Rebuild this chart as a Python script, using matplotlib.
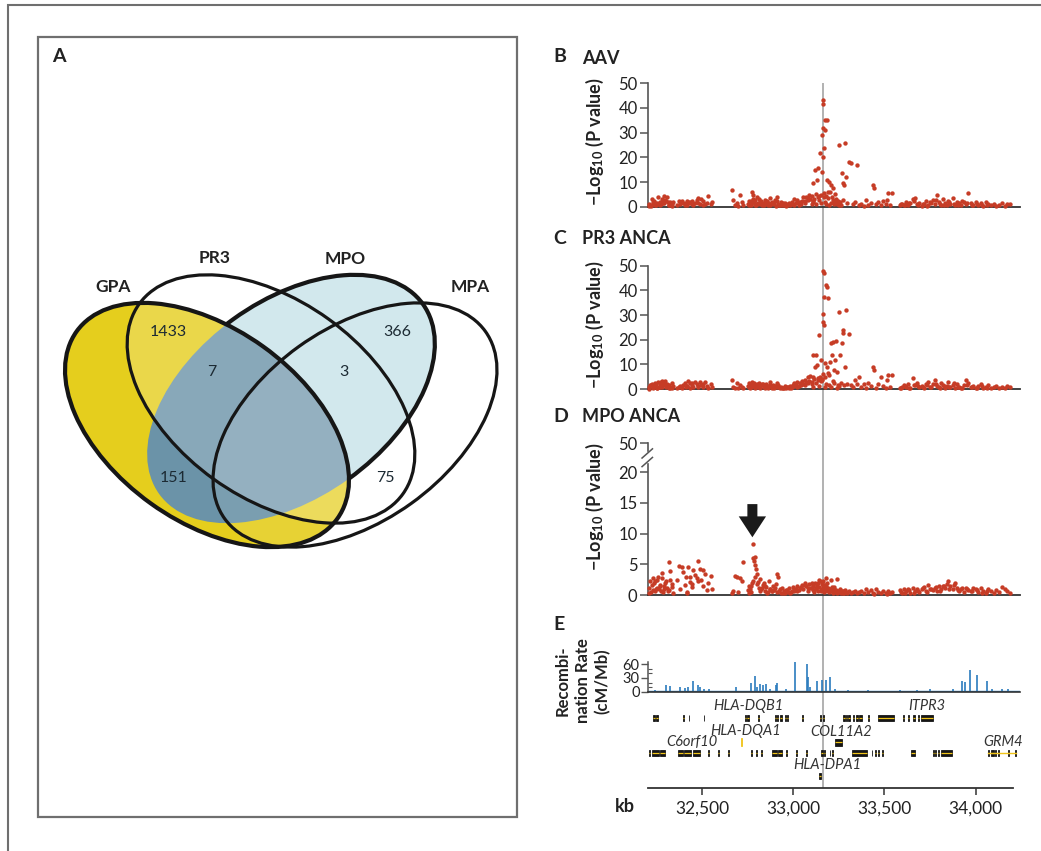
import matplotlib
matplotlib.use('Agg')
import matplotlib.pyplot as plt
from matplotlib.patches import Ellipse, Rectangle, FancyArrow

plt.rcParams['font.family'] = ['Lato', 'DejaVu Sans']
plt.rcParams['mathtext.fontset'] = 'custom'
plt.rcParams['mathtext.rm'] = 'Lato'
plt.rcParams['mathtext.bf'] = 'Lato:bold'
plt.rcParams['mathtext.it'] = 'Lato:italic'

# ---------------- data ----------------
venn_sets = ['GPA', 'PR3', 'MPO', 'MPA']
venn_counts = [1433, 7, 151, 3, 366, 75]

snp_kb = [
    32205, 32214, 32222, 32231, 32238, 32241, 32249, 32257, 32262, 32270,
    32277, 32284, 32290, 32296, 32304, 32311, 32318, 32325, 32332, 32340,
    32359, 32370, 32378, 32386, 32396, 32404, 32414, 32422, 32430, 32442,
    32450, 32458, 32469, 32478, 32486, 32494, 32506, 32515, 32524, 32534,
    32546, 32552,
    32661, 32670, 32680, 32689, 32698, 32707, 32716, 32725,
    32752, 32758, 32765, 32771, 32776, 32780, 32784, 32789, 32795, 32799,
    32806, 32812, 32818, 32825, 32832, 32838, 32845, 32852, 32860, 32867,
    32874, 32881, 32888, 32895, 32902, 32908, 32912, 32917, 32924, 32931,
    32938, 32946, 32953, 32960, 32968, 32975, 32983, 32990, 32998, 33006,
    33014, 33022, 33030, 33038, 33046, 33054, 33062, 33070, 33078, 33086,
    33094,
    33100, 33105, 33110, 33115, 33119, 33124, 33128, 33133, 33137, 33143,
    33146, 33150, 33155, 33157, 33161, 33163, 33164, 33165, 33167, 33168,
    33170, 33174, 33176, 33179, 33183, 33186, 33188, 33192, 33197, 33201,
    33205, 33210, 33215, 33219, 33224, 33229, 33234, 33238, 33245, 33252,
    33256, 33261, 33265, 33271, 33274, 33278, 33283, 33289, 33296, 33307,
    33318, 33330, 33340, 33351, 33360,
    33102, 33108, 33122, 33140, 33152, 33172, 33181, 33195, 33208, 33222,
    33241, 33248, 32781, 32787, 32792,
    33372, 33385, 33398, 33412, 33425, 33439, 33441, 33452, 33466, 33480,
    33494, 33508, 33512, 33521, 33530, 33540,
    33585, 33595, 33606, 33618, 33630, 33642, 33655, 33668, 33680, 33692,
    33704, 33716, 33728, 33740, 33752, 33764, 33776, 33787, 33798, 33810,
    33822, 33834, 33846, 33851, 33862, 33874, 33886, 33897, 33910, 33922,
    33935, 33948, 33961, 33974, 33987,
    34000, 34014, 34028, 34042, 34056, 34070, 34085, 34100, 34115, 34130,
    34145, 34160, 34175, 34190,
    32209, 32218, 32227, 32235, 32245, 32253, 32266, 32274, 32281, 32288,
    32300, 32315, 32322, 32336, 32410, 32418, 32435, 32446, 32474, 32502,
    32755, 32762, 32768, 32802, 32815, 32828, 32842, 32856, 32870, 32885,
    32899, 32921, 32942, 32964, 32986, 33002, 33018, 33042, 33066, 33082,
    33590, 33612, 33636, 33660, 33686, 33710, 33734, 33758, 33781, 33804,
    33828, 33856, 33880, 33904, 33928, 33954, 33980, 34007, 34035, 34063,
]

logp_aav = [
    0.3, 0.8, 3.2, 1.0, 0.5, 1.5, 0.9, 3.8, 1.2, 0.6,
    2.1, 1.4, 4.2, 2.6, 3.9, 1.8, 0.7, 1.1, 0.4, 2.0,
    0.5, 2.2, 1.0, 2.4, 1.6, 0.8, 2.5, 1.9, 1.3, 2.2,
    0.6, 1.5, 2.8, 3.5, 1.0, 3.0, 2.3, 0.9, 1.7, 4.4,
    1.2, 2.0,
    6.8, 2.7, 0.6, 1.4, 0.4, 4.7, 2.0, 0.7,
    1.2, 2.5, 0.8, 6.1, 3.2, 4.7, 1.9, 2.8, 0.6, 4.0,
    1.5, 3.0, 0.9, 2.2, 1.4, 0.5, 2.7, 1.8, 0.7, 1.3,
    3.5, 2.0, 0.9, 1.6, 0.4, 4.0, 2.4, 1.1, 0.6, 1.9,
    0.8, 0.5, 1.4, 0.3, 0.9, 1.7, 0.6, 2.1, 1.0, 3.2,
    1.5, 2.6, 0.8, 1.9, 2.4, 3.8, 1.3, 4.0, 2.7, 4.6,
    3.3,
    4.5, 2.0, 9.5, 3.0, 14.9, 5.0, 10.8, 3.8, 15.5, 4.2,
    21.6, 4.8, 29.0, 14.2, 43.2, 41.6, 20.3, 31.8, 23.6, 5.5,
    3.9, 35.0, 31.0, 4.5, 35.0, 10.8, 6.0, 3.5, 10.0, 5.8,
    8.8, 4.0, 2.6, 7.4, 1.8, 5.3, 3.0, 1.2, 2.4, 25.0,
    2.0, 0.8, 13.5, 9.5, 2.9, 8.8, 25.7, 12.2, 1.5, 18.2,
    17.6, 1.0, 2.0, 16.9, 0.7,
    1.2, 2.2, 0.9, 2.8, 1.5, 2.1, 1.0, 0.6, 1.5, 0.9,
    2.2, 0.5, 2.0, 1.1, 0.7,
    1.0, 0.4, 2.7, 0.6, 1.5, 8.8, 7.4, 0.9, 1.8, 0.5,
    2.2, 1.2, 2.7, 5.4, 0.8, 5.4,
    0.5, 1.2, 0.8, 2.0, 0.6, 1.4, 3.0, 3.4, 0.9, 1.6,
    0.4, 1.1, 2.2, 0.7, 1.8, 2.6, 1.2, 4.7, 2.0, 0.8,
    3.2, 1.5, 0.6, 2.4, 1.0, 3.6, 0.7, 1.9, 1.3, 0.5,
    2.1, 0.9, 5.4, 1.6, 0.8,
    2.0, 0.6, 1.3, 0.4, 1.8, 0.9, 0.5, 1.1, 0.3, 0.7,
    1.5, 0.4, 1.0, 1.2,
    1.1, 0.4, 1.8, 2.4, 0.7, 1.3, 2.0, 0.9, 3.1, 1.6,
    2.3, 0.5, 1.9, 1.0, 1.4, 0.6, 2.0, 1.1, 1.7, 0.8,
    0.6, 1.7, 2.3, 0.9, 1.8, 0.5, 1.2, 2.4, 0.6, 1.3,
    2.9, 0.7, 1.6, 0.5, 1.2, 0.8, 2.0, 1.1, 2.2, 3.6,
    0.9, 0.5, 1.6, 2.2, 0.7, 1.2, 0.4, 1.5, 2.8, 1.0,
    0.6, 1.9, 1.2, 0.5, 2.3, 1.4, 0.8, 1.0, 0.5, 0.7,
]

logp_pr3 = [
    0.2, 1.5, 2.2, 0.8, 2.6, 1.3, 0.5, 2.9, 1.0, 0.7,
    3.3, 1.6, 2.4, 3.4, 1.9, 1.1, 0.6, 0.9, 0.3, 1.4,
    0.4, 0.8, 1.2, 0.5, 1.7, 2.4, 1.1, 3.1, 2.6, 1.8,
    0.9, 3.0, 2.2, 1.3, 2.7, 1.5, 0.7, 2.9, 1.2, 0.6,
    1.9, 0.8,
    3.6, 1.0, 0.5, 2.3, 0.3, 1.8, 0.9, 0.6,
    1.4, 2.3, 0.7, 2.8, 1.9, 1.2, 2.6, 0.5, 1.7, 2.1,
    1.0, 2.4, 0.6, 1.5, 2.0, 0.8, 1.3, 2.2, 0.4, 1.1,
    2.7, 0.9, 1.6, 0.5, 1.2, 2.3, 0.7, 1.8, 0.4, 1.0,
    0.6, 0.3, 1.2, 0.5, 0.8, 0.4, 1.1, 0.7, 1.5, 2.6,
    1.8, 3.0, 1.2, 2.4, 3.1, 2.0, 3.6, 2.8, 4.9, 3.4,
    5.2,
    3.0, 5.0, 13.8, 4.0, 9.0, 13.8, 9.7, 4.5, 3.8, 21.9,
    5.0, 11.8, 4.2, 3.5, 47.8, 27.3, 6.0, 30.3, 26.0, 46.9,
    37.2, 4.8, 10.5, 42.2, 9.0, 41.5, 36.8, 6.4, 5.5, 11.1,
    18.5, 13.8, 3.2, 19.2, 7.7, 11.8, 19.6, 7.0, 1.5, 31.4,
    13.8, 2.5, 18.5, 23.9, 22.6, 1.8, 9.0, 32.0, 2.0, 22.3,
    1.5, 0.8, 3.5, 2.0, 5.0,
    1.9, 0.8, 2.6, 1.2, 3.4, 0.9, 2.0, 1.5, 0.7, 2.4,
    0.6, 1.2, 1.5, 0.8, 1.3,
    0.8, 1.9, 0.5, 2.6, 1.1, 9.0, 7.7, 0.6, 2.0, 5.0,
    1.3, 0.4, 3.6, 5.7, 1.0, 5.7,
    0.4, 0.9, 1.6, 0.7, 2.2, 0.5, 4.3, 1.5, 2.4, 0.8,
    1.2, 0.6, 1.9, 3.0, 1.0, 2.2, 3.6, 1.4, 0.7, 2.6,
    1.8, 0.5, 1.2, 2.8, 0.9, 1.6, 0.6, 2.1, 1.0, 0.4,
    1.5, 3.6, 2.5, 0.9, 1.4,
    0.6, 1.2, 2.0, 0.5, 0.9, 1.5, 0.4, 0.8, 1.1, 0.3,
    0.7, 0.5, 1.2, 0.9,
    0.9, 1.8, 0.6, 1.2, 2.1, 0.4, 1.5, 2.8, 0.8, 2.2,
    1.0, 1.7, 0.5, 2.5, 0.9, 1.3, 0.6, 2.3, 1.0, 1.9,
    0.9, 0.5, 1.8, 1.4, 0.7, 1.9, 0.5, 1.1, 1.6, 0.6,
    1.4, 1.0, 0.4, 0.9, 0.6, 1.3, 0.8, 1.7, 1.5, 2.5,
    0.6, 1.2, 0.4, 1.8, 1.1, 0.7, 1.5, 0.9, 2.0, 0.6,
    1.3, 0.8, 2.3, 1.0, 0.5, 1.7, 0.9, 0.6, 1.1, 0.4,
]

logp_mpo = [
    0.4, 2.3, 1.6, 0.8, 2.2, 0.6, 1.2, 3.0, 0.9, 1.7,
    2.7, 0.5, 1.4, 2.0, 1.1, 0.7, 5.3, 2.4, 1.8, 0.3,
    2.4, 4.8, 0.9, 4.5, 3.8, 1.6, 0.4, 4.6, 2.1, 1.3,
    4.1, 3.3, 2.8, 5.5, 4.3, 2.5, 1.5, 3.5, 0.8, 2.0,
    3.1, 1.0,
    0.4, 0.6, 3.1, 3.0, 0.5, 2.7, 2.2, 5.3,
    0.8, 1.4, 0.5, 1.9, 2.3, 8.3, 5.6, 6.25, 4.3, 3.5,
    2.1, 1.2, 2.6, 0.9, 1.6, 2.0, 0.7, 1.3, 0.5, 2.2,
    1.0, 0.6, 1.4, 0.8, 1.8, 0.5, 3.5, 3.0, 0.9, 0.4,
    1.2, 0.6, 0.3, 0.8, 0.5, 1.1, 0.4, 0.7, 1.3, 0.6,
    0.9, 1.5, 0.8, 1.2, 1.6, 1.0, 2.0, 1.4, 0.7, 1.8,
    1.1,
    1.2, 0.8, 1.6, 0.5, 1.9, 0.9, 1.4, 2.0, 0.7, 1.3,
    2.2, 0.6, 1.8, 1.0, 1.5, 0.9, 2.3, 1.1, 0.5, 1.7,
    0.8, 1.2, 0.6, 1.4, 0.9, 1.9, 0.7, 1.2, 0.5, 1.0,
    0.6, 1.3, 0.8, 0.4, 0.9, 0.5, 0.8, 0.3, 0.7, 0.5,
    1.0, 0.4, 0.7, 0.4, 0.6, 0.3, 0.8, 0.5, 0.4, 0.6,
    0.3, 0.5, 0.6, 0.3, 0.5,
    2.0, 1.5, 1.1, 2.4, 0.8, 1.6, 2.7, 1.0, 2.4, 1.3,
    2.6, 0.7, 6.0, 4.9, 2.9,
    0.6, 0.3, 1.0, 0.5, 0.8, 0.4, 0.2, 0.9, 0.5, 0.3,
    0.7, 0.4, 0.2, 0.6, 0.3, 0.5,
    0.8, 0.4, 1.0, 0.6, 0.9, 0.3, 1.2, 0.7, 1.0, 0.5,
    0.9, 1.3, 0.6, 1.6, 1.0, 0.8, 1.2, 0.6, 1.4, 0.9,
    1.5, 1.1, 1.8, 2.2, 1.4, 1.0, 1.9, 1.2, 0.7, 1.0,
    0.5, 1.1, 0.8, 0.6, 1.2,
    0.9, 0.5, 1.1, 0.7, 0.4, 1.0, 0.6, 0.3, 0.8, 0.5,
    1.3, 0.9, 0.6, 0.4,
    1.2, 0.5, 2.8, 1.9, 0.9, 2.5, 1.5, 0.6, 3.6, 1.0,
    2.2, 0.8, 3.9, 1.3, 2.9, 0.5, 3.0, 1.8, 2.3, 4.0,
    0.4, 0.9, 1.4, 1.8, 0.6, 1.1, 1.5, 0.4, 0.9, 0.6,
    1.2, 0.7, 0.4, 0.8, 0.5, 1.0, 0.7, 1.3, 1.6, 1.2,
    0.5, 0.3, 0.8, 0.4, 0.7, 1.1, 0.5, 0.9, 1.3, 0.6,
    1.5, 1.0, 1.7, 0.8, 1.2, 0.9, 0.6, 0.8, 0.4, 0.6,
]

recomb_kb = [32240, 32301, 32323, 32378, 32405, 32423, 32447, 32478, 32487, 32509,
             32539, 32685, 32766, 32789, 32799, 32817, 32831, 32850, 32872, 32905,
             32912, 32960, 33009, 33073, 33082, 33091, 33128, 33155, 33179, 33201,
             33229, 33302, 33412, 33585, 33677, 33750, 33878, 33924, 33942, 33970,
             34006, 34061, 34089, 34144, 34180]
recomb_rate = [3, 15, 12, 10, 9, 11, 23, 15, 10, 7,
               6, 10, 18, 34, 11, 17, 15, 17, 7, 15,
               20, 6, 66, 60, 33, 11, 24, 26, 26, 33,
               7, 4, 3, 4, 3, 5, 7, 23, 22, 48,
               37, 24, 7, 7, 7]

lead_snp_kb = 33163
mpo_signal_kb = 32775

row1_start = [32228, 32247, 32394, 32425, 32507, 32732, 32746, 32805, 32897, 32912,
              32926, 32952, 32966, 33049, 33144, 33160, 33272, 33288, 33300, 33327,
              33346, 33362, 33409, 33466, 33601, 33629, 33656, 33684, 33700]
row1_end = [32240, 32259, 32398, 32429, 32511, 32741, 32755, 32810, 32905, 32918,
            32936, 32962, 32973, 33055, 33152, 33168, 33282, 33292, 33311, 33331,
            33354, 33375, 33413, 33550, 33605, 33633, 33668, 33692, 33768]
row2_start = [32186, 32205, 32222, 32268, 32366, 32400, 32447, 32531, 32586, 32641,
              32769, 32797, 32823, 32884, 32918, 32961, 33016, 33071, 33153, 33166,
              33199, 33213, 33320, 33430, 33448, 33466, 33484, 33643, 33766, 33778,
              33792, 33812, 34070, 34085, 34106, 34122, 34180, 34214]
row2_end = [32198, 32215, 32262, 32295, 32395, 32440, 32487, 32535, 32590, 32645,
            32773, 32801, 32830, 32912, 32936, 32966, 33021, 33076, 33160, 33174,
            33203, 33219, 33403, 33434, 33452, 33470, 33494, 33668, 33772, 33784,
            33798, 33869, 34076, 34100, 34112, 34126, 34184, 34220]
col11a2_span = (33229, 33265)
dpa1_span = (33142, 33152)
dqa1_span = (32710, 32716)
grm4_span = (34070, 34222)

gene_names = ['HLA-DQB1', 'ITPR3', 'HLA-DQA1', 'COL11A2', 'C6orf10', 'GRM4', 'HLA-DPA1']
gene_label_kb = [32752, 33732, 32740, 33265, 32442, 34152, 33186]
gene_label_row = [706, 706, 731.5, 731.5, 742.5, 742.5, 765]

kb_ticks = [32500, 33000, 33500, 34000]
kb_ticklabels = ['32,500', '33,000', '33,500', '34,000']

# ---------------- layout ----------------
W, H = 1041, 851
fig = plt.figure(figsize=(W / 100, H / 100), dpi=100)


def rect(x0, y0, x1, y1):
    return [x0 / W, 1 - y1 / H, (x1 - x0) / W, (y1 - y0) / H]


def ftext(x, y, s, **kw):
    fig.text(x / W, 1 - y / H, s, **kw)


FRAME = '#6f6f6f'
TXT = '#222222'
fig.add_artist(Rectangle((8 / W, 1 - 866 / H), 1050 / W, 861 / H, transform=fig.transFigure,
                         fill=False, ec=FRAME, lw=1.5))
fig.add_artist(Rectangle((38 / W, 1 - 817 / H), 479 / W, 780 / H, transform=fig.transFigure,
                         fill=False, ec=FRAME, lw=1.6))

# ---------------- Panel A : Venn ----------------
axA = fig.add_axes(rect(38, 37, 517, 817))
axA.set_xlim(38, 517)
axA.set_ylim(817, 37)
axA.axis('off')

geo = {
    'GPA': ((207, 425), 321, 193, 35.7),
    'PR3': ((271, 399), 325, 197, 35.8),
    'MPO': ((291, 399), 325, 197, -35.8),
    'MPA': ((355, 425), 321, 193, -35.7),
}


def ell(name, **kw):
    c, w, h, a = geo[name]
    e = Ellipse(c, w, h, angle=a, **kw)
    axA.add_patch(e)
    return e


DARK = '#161616'
ell('MPO', fc='#d2e8ed', ec='none', zorder=1)
ell('MPO', fill=False, ec=DARK, lw=3.0, zorder=2)
gpa_fill = ell('GPA', fc='#e5ce1d', ec='none', zorder=3)
mpo_dark = ell('MPO', fc='#6b93a8', ec='none', zorder=4)
mpo_dark.set_clip_path(gpa_fill)
pr3_ov = ell('PR3', fc='white', ec='none', alpha=0.2, zorder=5)
pr3_ov.set_clip_path(gpa_fill)
mpa_ov = ell('MPA', fc='white', ec='none', alpha=0.1, zorder=5)
mpa_ov.set_clip_path(gpa_fill)
ell('GPA', fill=False, ec=DARK, lw=3.0, zorder=6)
ell('PR3', fill=False, ec=DARK, lw=2.3, zorder=6)
ell('MPA', fill=False, ec=DARK, lw=2.3, zorder=6)

set_label_pos = [(113, 287), (215, 258), (345, 259), (470, 287)]
for name, (x, y) in zip(venn_sets, set_label_pos):
    axA.text(x, y, name, ha='center', va='center', fontsize=12.5, fontweight='bold', color=TXT)
count_pos = [(168, 332), (212, 372), (174, 478), (344, 372), (397, 332), (385, 478)]
for n, (x, y) in zip(venn_counts, count_pos):
    axA.text(x, y, str(n), ha='center', va='center', fontsize=11.5, color='#1c2a33', zorder=8)
ftext(52, 57, 'A', fontsize=14, fontweight='bold', va='center', ha='left', color=TXT)

# ---------------- right panels ----------------
XL = (32202, 34244)
RED = '#c63c26'
SP = '#555555'

axV = fig.add_axes(rect(648, 83, 1020, 788))
axV.set_xlim(*XL)
axV.set_ylim(0, 1)
axV.axis('off')
axV.set_zorder(-1)
axV.axvline(lead_snp_kb, color='#ababab', lw=1.3)


def scatter_panel(y0, y1, vals, ylim):
    ax = fig.add_axes(rect(648, y0, 1020, y1))
    ax.patch.set_alpha(0)
    ax.set_xlim(*XL)
    ax.set_ylim(*ylim)
    ax.scatter(snp_kb, vals, s=10, c=RED, lw=0, clip_on=False, zorder=3)
    for s in ['top', 'right']:
        ax.spines[s].set_visible(False)
    ax.spines['bottom'].set_color('#333333')
    ax.spines['bottom'].set_linewidth(1.3)
    ax.spines['left'].set_color(SP)
    ax.spines['left'].set_linewidth(1.2)
    ax.set_xticks([])
    ax.tick_params(axis='y', length=6, width=1.1, color=SP, labelsize=12, pad=1.5,
                   labelcolor=TXT)
    return ax


YLAB = '\u2212Log$_{\\mathbf{10}}$ (P value)'
YL_FS = 13

axB = scatter_panel(83.3, 206.7, logp_aav, (0, 50))
axB.set_yticks(range(0, 51, 10))
ftext(553, 57, 'B', fontsize=14, fontweight='bold', va='center', color=TXT)
ftext(582, 58, 'AAV', fontsize=13, fontweight='bold', va='center', color=TXT)
ftext(595, 142, YLAB, rotation=90, ha='center', va='center', fontsize=YL_FS,
      fontweight='bold', color=TXT)

axC = scatter_panel(265.7, 389, logp_pr3, (0, 50))
axC.set_yticks(range(0, 51, 10))
ftext(553, 238, 'C', fontsize=14, fontweight='bold', va='center', color=TXT)
ftext(582, 239, 'PR3 ANCA', fontsize=13, fontweight='bold', va='center', color=TXT)
ftext(595, 325, YLAB, rotation=90, ha='center', va='center', fontsize=YL_FS,
      fontweight='bold', color=TXT)

axD = scatter_panel(443.3, 595, logp_mpo, (0, 24.7))
axD.set_yticks([0, 5, 10, 15, 20, 24.7])
axD.set_yticklabels(['0', '5', '10', '15', '20', '50'])
axD.spines['left'].set_visible(False)
tr = axD.get_yaxis_transform()
axD.plot([0, 0], [0, 21.4], transform=tr, color=SP, lw=1.2, clip_on=False)
axD.plot([0, 0], [23.5, 24.7], transform=tr, color=SP, lw=1.2, clip_on=False)
axD.plot([-0.016, 0.012], [20.9, 22.4], transform=tr, color=SP, lw=1.1, clip_on=False)
axD.plot([-0.016, 0.012], [22.3, 23.8], transform=tr, color=SP, lw=1.1, clip_on=False)
axD.add_patch(FancyArrow(mpo_signal_kb, 14.8, 0, -5.4, width=55, head_width=150,
                         head_length=3.4, length_includes_head=True, color='#1a1a1a',
                         lw=0, zorder=4))
ftext(553, 416, 'D', fontsize=14, fontweight='bold', va='center', color=TXT)
ftext(582, 417, 'MPO ANCA', fontsize=13, fontweight='bold', va='center', color=TXT)
ftext(595, 507, YLAB, rotation=90, ha='center', va='center', fontsize=YL_FS,
      fontweight='bold', color=TXT)

# ---------------- Panel E ----------------
axE = fig.add_axes(rect(648, 659.7, 1020, 691.7))
axE.patch.set_alpha(0)
axE.set_xlim(*XL)
axE.set_ylim(0, 70)
BLUE = '#2b7bbd'
axE.vlines(recomb_kb, 0, recomb_rate, color=BLUE, lw=1.2, clip_on=False)
axE.axhline(0.8, color=BLUE, lw=1.0)
for s in ['top', 'right']:
    axE.spines[s].set_visible(False)
axE.spines['bottom'].set_color('#333333')
axE.spines['bottom'].set_linewidth(1.2)
axE.spines['left'].set_color(SP)
axE.spines['left'].set_linewidth(1.1)
axE.spines['left'].set_bounds(0, 64)
axE.set_xticks([])
axE.set_yticks([0, 30, 60])
axE.set_yticks([10, 20, 40, 50], minor=True)
axE.tick_params(axis='y', which='major', length=5, width=1.0, color=SP, labelsize=10.5,
                pad=1.0, labelcolor=TXT)
axE.tick_params(axis='y', which='minor', length=3, width=0.8, color=SP, direction='in')
ftext(553, 625, 'E', fontsize=14, fontweight='bold', va='center', color=TXT)
ftext(583, 681, 'Recombi-\nnation Rate\n(cM/Mb)', rotation=90, ha='center', va='center',
      ma='center', fontsize=12, fontweight='bold', color=TXT, linespacing=1.3)

# ---------------- gene track ----------------
axG = fig.add_axes(rect(648, 698, 1020, 786))
axG.patch.set_alpha(0)
axG.set_xlim(*XL)
axG.set_ylim(786, 698)
axG.axis('off')
YEL = '#f0c419'


def gene(s, e, y, h=6):
    axG.add_patch(Rectangle((s, y - h / 2), e - s, h, fc='#151515', ec='#151515', lw=0.6))
    axG.plot([s, e], [y, y], color=YEL, lw=0.9, solid_capstyle='butt')


axG.plot(grm4_span, [753, 753], color=YEL, lw=1.0)
for s, e in zip(row1_start, row1_end):
    gene(s, e, 718)
for s, e in zip(row2_start, row2_end):
    gene(s, e, 753)
gene(col11a2_span[0], col11a2_span[1], 742, 7)
gene(dpa1_span[0], dpa1_span[1], 776)
axG.add_patch(Rectangle((dqa1_span[0], 738), dqa1_span[1] - dqa1_span[0], 8, fc=YEL,
                        ec=YEL, lw=0.6))
for name, x, y in zip(gene_names, gene_label_kb, gene_label_row):
    axG.text(x, y, name, ha='center', va='center', fontsize=10.5, style='italic',
             color='#333333')

# ---------------- kb axis ----------------
axK = fig.add_axes(rect(648, 786, 1020, 788))
axK.patch.set_alpha(0)
axK.set_xlim(*XL)
for s in ['top', 'right', 'left']:
    axK.spines[s].set_visible(False)
axK.spines['bottom'].set_color('#333333')
axK.spines['bottom'].set_linewidth(1.3)
axK.spines['bottom'].set_bounds(32202, 34205)
axK.set_yticks([])
axK.set_xticks(kb_ticks)
axK.set_xticklabels(kb_ticklabels)
axK.tick_params(axis='x', length=5, width=1.1, color='#333333', labelsize=12.5, pad=4,
                labelcolor=TXT)
ftext(625, 806, 'kb', fontsize=13, fontweight='bold', va='center', ha='center', color=TXT)

fig.savefig('out.png', dpi=100)
